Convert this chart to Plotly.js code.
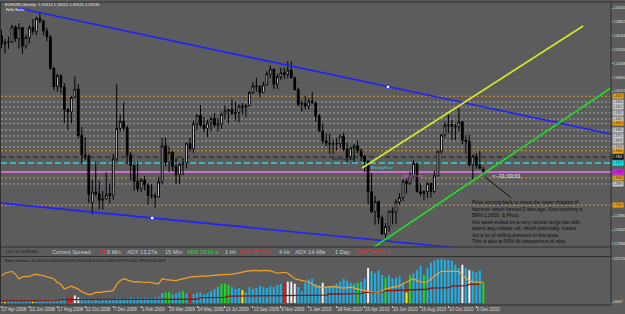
<!DOCTYPE html>
<html><head><meta charset="utf-8">
<script src="https://cdn.plot.ly/plotly-3.0.1.min.js"></script>
<style>html,body{margin:0;padding:0;background:#5c5c5c;}#chart{width:625px;height:314px;}</style>
</head><body><div id="chart"></div>
<script>
// ---------- DATA ----------
const weeks = [
'2008-04-27','2008-05-04','2008-05-11','2008-05-18','2008-05-25','2008-06-01','2008-06-08','2008-06-15','2008-06-22','2008-06-29',
'2008-07-06','2008-07-13','2008-07-20','2008-07-27','2008-08-03','2008-08-10','2008-08-17','2008-08-24','2008-08-31','2008-09-07',
'2008-09-14','2008-09-21','2008-09-28','2008-10-05','2008-10-12','2008-10-19','2008-10-26','2008-11-02','2008-11-09','2008-11-16',
'2008-11-23','2008-11-30','2008-12-07','2008-12-14','2008-12-21','2008-12-28',
'2009-01-04','2009-01-11','2009-01-18','2009-01-25','2009-02-01','2009-02-08','2009-02-15','2009-02-22','2009-03-01','2009-03-08',
'2009-03-15','2009-03-22','2009-03-29','2009-04-05','2009-04-12','2009-04-19','2009-04-26','2009-05-03','2009-05-10','2009-05-17',
'2009-05-24','2009-05-31','2009-06-07','2009-06-14','2009-06-21','2009-06-28','2009-07-05','2009-07-12','2009-07-19','2009-07-26',
'2009-08-02','2009-08-09','2009-08-16','2009-08-23','2009-08-30','2009-09-06','2009-09-13','2009-09-20','2009-09-27','2009-10-04',
'2009-10-11','2009-10-18','2009-10-25','2009-11-01','2009-11-08','2009-11-15','2009-11-22','2009-11-29','2009-12-06','2009-12-13',
'2009-12-20','2009-12-27',
'2010-01-03','2010-01-10','2010-01-17','2010-01-24','2010-01-31','2010-02-07','2010-02-14','2010-02-21','2010-02-28','2010-03-07',
'2010-03-14','2010-03-21','2010-03-28','2010-04-04','2010-04-11','2010-04-18','2010-04-25','2010-05-02','2010-05-09','2010-05-16',
'2010-05-23','2010-05-30','2010-06-06','2010-06-13','2010-06-20','2010-06-27','2010-07-04','2010-07-11','2010-07-18','2010-07-25',
'2010-08-01','2010-08-08','2010-08-15','2010-08-22','2010-08-29','2010-09-05','2010-09-12','2010-09-19','2010-09-26','2010-10-03',
'2010-10-10','2010-10-17','2010-10-24','2010-10-31','2010-11-07','2010-11-14','2010-11-21','2010-11-28','2010-12-05','2010-12-12',
'2010-12-19'];

const opens = [
1.5610,1.5460,1.5490,1.5500,1.5770,1.5560,1.5760,1.5420,1.5580,1.5760,
1.5690,1.5930,1.5880,1.5700,1.5590,1.5010,1.4680,1.4880,1.4670,1.4260,
1.4210,1.4480,1.4630,1.3780,1.3420,1.3400,1.2550,1.2740,1.2710,1.2590,
1.2620,1.2710,1.2680,1.3350,1.3910,1.4040,
1.3920,1.3420,1.3230,1.2940,1.2800,1.2960,1.2870,1.2680,1.2670,1.2650,
1.2930,1.3590,1.3280,1.3470,1.3210,1.3060,1.3250,1.3280,1.3630,1.3530,
1.3990,1.4150,1.3970,1.3910,1.4010,1.4090,1.3970,1.3990,1.4170,1.4230,
1.4250,1.4180,1.4200,1.4320,1.4300,1.4330,1.4570,1.4690,1.4680,1.4570,
1.4710,1.4910,1.5000,1.4720,1.4860,1.4930,1.4900,1.4980,1.4840,1.4620,
1.4350,1.4370,
1.4320,1.4410,1.4380,1.4140,1.3860,1.3680,1.3640,1.3620,1.3630,1.3630,
1.3770,1.3530,1.3390,1.3550,1.3590,1.3500,1.3400,1.3300,1.2750,1.2380,
1.2570,1.2270,1.1970,1.2110,1.2390,1.2370,1.2560,1.2640,1.2940,1.2900,
1.3050,1.3270,1.2750,1.2710,1.2750,1.2900,1.2750,1.3040,1.3490,1.3790,
1.3960,1.3980,1.3950,1.3940,1.4030,1.3690,1.3670,1.3240,1.3400,1.3230,
1.3161];
const highs = [
1.5720,1.5550,1.5590,1.5815,1.5800,1.5840,1.5770,1.5630,1.5800,1.5920,
1.5960,1.6038,1.5900,1.5760,1.5620,1.5040,1.4920,1.4900,1.4740,1.4280,
1.4500,1.4865,1.4720,1.3940,1.3750,1.3430,1.2960,1.3300,1.2950,1.2760,
1.3100,1.2900,1.3440,1.4720,1.4160,1.4390,
1.3960,1.3480,1.3240,1.3300,1.3000,1.3040,1.2900,1.2890,1.2720,1.3020,
1.3740,1.3740,1.3580,1.3500,1.3370,1.3260,1.3370,1.3650,1.3740,1.4050,
1.4170,1.4340,1.4120,1.4070,1.4130,1.4190,1.4100,1.4200,1.4330,1.4270,
1.4440,1.4400,1.4350,1.4380,1.4360,1.4590,1.4760,1.4840,1.4700,1.4770,
1.4960,1.5060,1.5000,1.4910,1.5020,1.5020,1.5144,1.5144,1.4860,1.4660,
1.4420,1.4510,
1.4460,1.4580,1.4400,1.4170,1.4000,1.3820,1.3810,1.3700,1.3730,1.3800,
1.3830,1.3650,1.3580,1.3620,1.3690,1.3540,1.3420,1.3330,1.3090,1.2670,
1.2570,1.2310,1.2170,1.2400,1.2460,1.2610,1.2720,1.2970,1.2990,1.3110,
1.3330,1.3270,1.2900,1.2770,1.2920,1.2900,1.3130,1.3500,1.3790,1.4030,
1.4160,1.4060,1.4000,1.4280,1.4040,1.3790,1.3790,1.3430,1.3450,1.3500,
1.3201];
const lows = [
1.5380,1.5285,1.5370,1.5480,1.5500,1.5375,1.5280,1.5370,1.5470,1.5630,
1.5620,1.5840,1.5620,1.5510,1.4990,1.4610,1.4580,1.4550,1.4010,1.3880,
1.4000,1.4470,1.3730,1.3260,1.3330,1.2540,1.2330,1.2660,1.2420,1.2420,
1.2600,1.2530,1.2600,1.3300,1.3850,1.3870,
1.3250,1.2960,1.2760,1.2750,1.2740,1.2770,1.2510,1.2620,1.2460,1.2640,
1.2880,1.3210,1.3110,1.3120,1.2890,1.2890,1.3050,1.3170,1.3480,1.3460,
1.3880,1.3930,1.3840,1.3750,1.3860,1.3930,1.3850,1.3900,1.4070,1.4000,
1.4160,1.4050,1.4020,1.4160,1.4110,1.4310,1.4540,1.4580,1.4480,1.4560,
1.4700,1.4830,1.4630,1.4630,1.4800,1.4820,1.4830,1.4830,1.4610,1.4310,
1.4220,1.4260,
1.4260,1.4360,1.4030,1.3850,1.3630,1.3580,1.3440,1.3440,1.3500,1.3550,
1.3490,1.3270,1.3330,1.3290,1.3450,1.3310,1.3110,1.2520,1.2350,1.2140,
1.2150,1.1960,1.1876,1.2010,1.2150,1.2150,1.2510,1.2580,1.2710,1.2870,
1.2990,1.2730,1.2670,1.2590,1.2630,1.2640,1.2720,1.3030,1.3450,1.3740,
1.3820,1.3700,1.3690,1.3850,1.3620,1.3450,1.3210,1.2970,1.3170,1.3170,
1.3054];
const closes = [
1.5460,1.5490,1.5500,1.5770,1.5560,1.5760,1.5420,1.5580,1.5760,1.5690,
1.5930,1.5880,1.5700,1.5590,1.5010,1.4680,1.4880,1.4670,1.4260,1.4210,
1.4480,1.4630,1.3780,1.3420,1.3400,1.2700,1.2740,1.2710,1.2590,1.2620,
1.2690,1.2680,1.3350,1.3910,1.4040,1.3920,
1.3420,1.3230,1.2940,1.2800,1.2960,1.2870,1.2680,1.2670,1.2650,1.2930,
1.3590,1.3280,1.3470,1.3210,1.3060,1.3250,1.3280,1.3630,1.3530,1.3990,
1.4150,1.3970,1.3910,1.4010,1.4090,1.3970,1.3990,1.4170,1.4230,1.4250,
1.4180,1.4200,1.4320,1.4300,1.4330,1.4570,1.4690,1.4680,1.4570,1.4710,
1.4910,1.5000,1.4720,1.4860,1.4930,1.4900,1.4980,1.4840,1.4620,1.4350,
1.4370,1.4320,
1.4410,1.4380,1.4140,1.3860,1.3680,1.3640,1.3620,1.3630,1.3630,1.3770,
1.3530,1.3390,1.3550,1.3590,1.3500,1.3400,1.3300,1.2750,1.2380,1.2570,
1.2270,1.1970,1.2110,1.2390,1.2370,1.2560,1.2640,1.2940,1.2900,1.3050,
1.3270,1.2750,1.2710,1.2750,1.2900,1.2750,1.3040,1.3490,1.3790,1.3960,
1.3980,1.3950,1.3940,1.4030,1.3690,1.3670,1.3240,1.3400,1.3230,1.3180,
1.3115];

// Better Volume (thousands of ticks)
const volume = [
52,31,60,35,55,61,33,49,58,30,47,64,57,36,62,85,66,
88,118,172,178,205,150,121,90,
92,64,85,60,88,66,95,84,
118,125,92,116,148,122,140,118,150,145,120,152,170,
265,290,300,235,262,295,320,
262,290,235,268,290,240,265,318,
380,440,525,
530,498,440,
380,410,350,290,440,385,410,465,440,
410,465,440,495,525,555,585,580,525,
440,320,555,640,670,525,
495,555,440,465,495,525,585,670,610,555,
525,555,585,670,960,875,815,900,760,700,
760,670,700,730,555,290,760,815,900,1020,
760,960,1105,1165,1195,1221,1190,1180,1165,1050,
960,1050,960,900,875,845,900,555];
const volumeAvg = [
55,55,56,56,57,57,58,58,58,59,59,60,60,60,61,61,62,
88,89,90,90,91,91,92,92,92,92,92,92,93,93,93,93,93,93,94,94,94,94,95,95,95,95,96,96,96,96,97,97,97,98,98,98,99,99,100,100,
145,146,147,148,149,150,150,151,
188,189,190,190,191,192,192,193,193,194,195,195,196,196,197,198,
205,206,206,207,208,208,209,210,210,211,212,212,213,
245,246,247,248,249,250,251,252,253,254,
290,292,294,296,298,300,
335,337,339,341,343,345,
365,367,369,371,373,375,377,
405,408,411,414,417,420,
465,468,471,474,477,
510,513,516,518];
const volGreen = [47,48,52,63,64,65,102,110,117,121,138];
const volRed = [19,20,54,81];
const volWhite = [21,22,82,83,84,92,105,132,134];
const volYellow = [1,9,69,116];

const rsi = [
59,64,66,68,62,52,56,57,57,60,62,60,59,56,54,52,44,40,30,33,
36,33,30,24,21,18,19,23,22,24,25,25,27,40,48,52,49,47,45,46,
45,44,45,43,42,41,52,50,49,48,48,50,52,54,55,57,56,58,57,58,
59,60,60,61,61,61,62,63,65,66,68,69,70,70,69,70,70,69,67,64,
65,66,64,58,52,50,48,46,45,40,36,34,33,34,35,34,35,33,32,33,
34,32,30,28,26,25,24,23,23,25,30,32,34,35,36,42,45,49,52,48,
45,45,45,52,57,63,68,68,68,68,68,68,59,54,48,46,45,44,45];

const xTickDates = ['2008-04-27','2008-06-22','2008-08-17','2008-10-12','2008-12-07','2009-02-01','2009-03-29','2009-05-24','2009-07-19','2009-09-13','2009-11-08','2010-01-03','2010-02-28','2010-04-25','2010-06-20','2010-08-15','2010-10-10','2010-12-05'];
// visible right-axis price labels (the others are hidden behind the level boxes)
const priceTicks = [1.61200,1.58652,1.56104,1.53556,1.51008,1.48460,1.45912,1.22980,1.20432,1.17884];

// Horizontal levels
const roundLevels = [1.4500,1.4000,1.3500,1.3000,1.2500];
const grayLevels = [1.4394,1.4302,1.4192,1.4082,1.3880,1.3770,1.3678,1.3568,1.2889];
const monthlyPivot = 1.3384, weeklyPivot = 1.3274, dailyPivot = 1.3109;

// Trend lines (time, price)
const upperChannelX = ['2008-05-30','2011-09-01'], upperChannelY = [1.6120,1.3807];
const lowerChannelX = ['2008-04-20','2011-09-01'], lowerChannelY = [1.2544,1.1438];
const yellowLineX = ['2010-04-20','2011-07-07'], yellowLineY = [1.3182,1.5790];
const greenLineX = ['2010-05-14','2011-09-01'], greenLineY = [1.1732,1.4651];
const pointerX = ['2010-12-22','2011-02-13'], pointerY = [1.3017,1.2636];
const anchorX = ['2010-06-11','2009-02-23'], anchorY = [1.4670,1.2264];

const noteLines = [
'Price coming back to retest the lower shadow of',
'hammer which formed 2 wks ago. Also touching a',
'BRN 1.3000  &amp; Pivot.',
'this week ended on a very narrow range bar with',
'above avg relative vol, which potentially means',
'not a lot of selling pressure in this area.',
'This is also at 50% fib retracement of wkly.'];

// ---------- CHART ----------
const W = 625, H = 314;
const px = v => v / W, py = v => (H - v) / H;
const FONT = 'Liberation Sans, Arial, sans-serif';

const volColors = volume.map((v, i) =>
  volGreen.includes(i) ? '#12e012' :
  volRed.includes(i) ? '#e01414' :
  volWhite.includes(i) ? '#f2f2f2' :
  volYellow.includes(i) ? '#f4f400' : '#1ab2ea');

const traces = [
  {type:'candlestick', x:weeks, open:opens, high:highs, low:lows, close:closes, xaxis:'x', yaxis:'y',
   increasing:{line:{color:'#000000',width:1}, fillcolor:'#ffffff'},
   decreasing:{line:{color:'#000000',width:1}, fillcolor:'#000000'},
   whiskerwidth:0, hoverinfo:'skip'},
  {type:'scatter', mode:'lines', x:upperChannelX, y:upperChannelY, line:{color:'#1f22ff',width:1.6}, hoverinfo:'skip'},
  {type:'scatter', mode:'lines', x:lowerChannelX, y:lowerChannelY, line:{color:'#1f22ff',width:1.6}, hoverinfo:'skip'},
  {type:'scatter', mode:'lines', x:yellowLineX, y:yellowLineY, line:{color:'#d8e82a',width:1.6}, hoverinfo:'skip'},
  {type:'scatter', mode:'lines', x:greenLineX, y:greenLineY, line:{color:'#22dd22',width:1.6}, hoverinfo:'skip'},
  {type:'scatter', mode:'lines', x:pointerX, y:pointerY, line:{color:'#101010',width:1}, hoverinfo:'skip'},
  {type:'scatter', mode:'markers', x:anchorX, y:anchorY, marker:{symbol:'circle',size:4,color:'#ffffff',line:{color:'#1f22ff',width:1}}, hoverinfo:'skip'},
  {type:'bar', x:weeks, y:volume, xaxis:'x', yaxis:'y2', marker:{color:volColors, line:{width:0}}, width:4*86400000, hoverinfo:'skip'},
  {type:'scatter', mode:'lines', x:weeks, y:volumeAvg, xaxis:'x', yaxis:'y2', line:{color:'#8e1212',width:1.3}, hoverinfo:'skip'},
  {type:'scatter', mode:'lines', x:weeks, y:rsi, xaxis:'x', yaxis:'y3', line:{color:'#f2a227',width:1.2}, hoverinfo:'skip'}
];

const shapes = [];
const hline = (lvl, color, dash, width) => shapes.push({type:'line', xref:'x domain', yref:'y', x0:0, x1:1, y0:lvl, y1:lvl, line:{color:color, dash:dash, width:width}, layer:'below'});
grayLevels.forEach(l => hline(l, '#a9a9a9', '2px,2px', 1));
roundLevels.forEach(l => hline(l, '#d69a2c', '2px,2px', 1));
hline(monthlyPivot, '#1a1a1a', '5px,3px', 1.2);
hline(weeklyPivot, '#2fd3d8', '6px,3px', 1.6);
hline(dailyPivot, '#cf6fd0', 'solid', 2);

// panel frames
const frame = '#2f2f2f';
[[0,2,625,2],[0,247,611,247],[0,256.5,611,256.5],[0,305,611,305],[611,2,611,305],[0.5,2,0.5,305]].forEach(s =>
  shapes.push({type:'line', xref:'paper', yref:'paper', x0:px(s[0]), x1:px(s[2]), y0:py(s[1]), y1:py(s[3]), line:{color:frame,width:1}}));

const ann = [];
const txt = (x, y, text, size, color, extra) => ann.push(Object.assign({xref:'paper', yref:'paper', x:px(x), y:py(y), text:text, showarrow:false, xanchor:'left', yanchor:'middle', font:{family:FONT, size:size, color:color}}, extra||{}));

txt(3, 5, 'EURUSD,Weekly  1.31614 1.32010 1.30541 1.31146', 4, '#e6e6e6');
txt(4, 10, 'Hello Sailor', 3.6, '#f0f0f0');
txt(330, 158.5, 'MonthlyPivot', 4, '#1c1c1c');
txt(369, 167.5, 'WeeklyPivot', 4, '#33d6da');
txt(401, 175.5, 'Daily Pivot', 4, '#e060e0');
txt(490, 176.5, '&lt;--31:00:01', 5.6, '#f4f4f4');
ann.push({xref:'paper', yref:'paper', x:px(470), y:py(196.5), text:noteLines.join('<br>'), showarrow:false, xanchor:'left', yanchor:'top', align:'left', font:{family:FONT, size:5, color:'#0c0c0c'}});

// status strip
const sy = 252;
txt(3, sy, 'TvR 1.02 (EURUSD)', 3.6, '#141414');
txt(50, sy, 'Current Spread:', 5.6, '#c4ccd4');
txt(97, sy, '33', 5.6, '#ff2a2a');
txt(105, sy, '5 Min:', 5.6, '#c4ccd4');
txt(125, sy, 'ADX 13.27', 5.6, '#b8cce2');
txt(152, sy, '≡', 5.6, '#b8cce2');
txt(163, sy, '15 Min:', 5.6, '#c4ccd4');
txt(185, sy, 'ADX 15.61', 5.6, '#22e022');
txt(213, sy, '≡', 5.6, '#22e022');
txt(223, sy, '1 Hr:', 5.6, '#c4ccd4');
txt(237, sy, 'ADX 15.75', 5.6, '#ff2a2a');
txt(265, sy, '≡', 5.6, '#ff2a2a');
txt(277, sy, '4 Hr:', 5.6, '#c4ccd4');
txt(293, sy, 'ADX 14.48', 5.6, '#b8cce2');
txt(320, sy, '≡', 5.6, '#b8cce2');
txt(333, sy, '1 Day:', 5.6, '#c4ccd4');
txt(355, sy, 'ADX 24.25', 5.6, '#ff2a2a');
txt(385, sy, '≡', 5.6, '#ff2a2a');
txt(3, 260.5, 'Better Volume 1.4 0.0000 0.0000 0.0000 931310.0000 0.0000 0.0000 479099.0000  RSI(14) 44.6612', 3.6, '#141414');

// right-axis price boxes for the levels
const box = (lvl, bg, fg) => ann.push({xref:'paper', yref:'y', x:px(611.5), y:lvl, text:lvl.toFixed(4), showarrow:false, xanchor:'left', yanchor:'middle', bgcolor:bg, borderpad:0, font:{family:FONT, size:3, color:fg}});
grayLevels.forEach(l => box(l, '#c9c9c9', '#333333'));
roundLevels.forEach(l => box(l, '#f0a21a', '#222222'));
box(monthlyPivot, '#050505', '#ffffff');
box(weeklyPivot, '#10f0f0', '#222222');
box(dailyPivot, '#ff10ff', '#222222');

const layout = {
  width:W, height:H, margin:{l:0,r:0,t:0,b:0},
  paper_bgcolor:'#5c5c5c', plot_bgcolor:'#5c5c5c', showlegend:false,
  font:{family:FONT, color:'#d8d8d8'},
  xaxis:{domain:[px(1), px(611)], anchor:'y2', type:'date', range:['2008-04-26','2011-09-01'],
         rangeslider:{visible:false}, tickvals:xTickDates, tickformat:'%-d %b %Y', tickangle:0,
         ticks:'outside', ticklen:2, tickcolor:'#cfcfcf', ticklabelposition:'outside right',
         tickfont:{family:FONT, size:4.5, color:'#dadada'}, showgrid:false, zeroline:false, showline:false},
  yaxis:{domain:[py(247), py(3)], side:'right', anchor:'x', range:[1.1732,1.6212],
         tickvals:priceTicks, ticktext:priceTicks.map(v => v.toFixed(5)), ticks:'outside', ticklen:1, tickcolor:'#cfcfcf',
         tickfont:{family:FONT, size:3.2, color:'#e2e2e2'}, showgrid:false, zeroline:false, showline:false},
  yaxis2:{domain:[py(305), py(256.5)], side:'right', anchor:'x', range:[-58.2,1279.9],
         tickvals:[1221.73, 20.057], ticktext:['1221730','20057'], ticks:'outside', ticklen:1, tickcolor:'#cfcfcf',
         tickfont:{family:FONT, size:3.2, color:'#e2e2e2'}, showgrid:false, zeroline:false, showline:false},
  yaxis3:{domain:[py(305), py(256.5)], overlaying:'y2', side:'right', range:[-4.545,100], visible:false},
  shapes:shapes, annotations:ann
};

Plotly.newPlot('chart', traces, layout, {staticPlot:true, displayModeBar:false});
</script></body></html>
